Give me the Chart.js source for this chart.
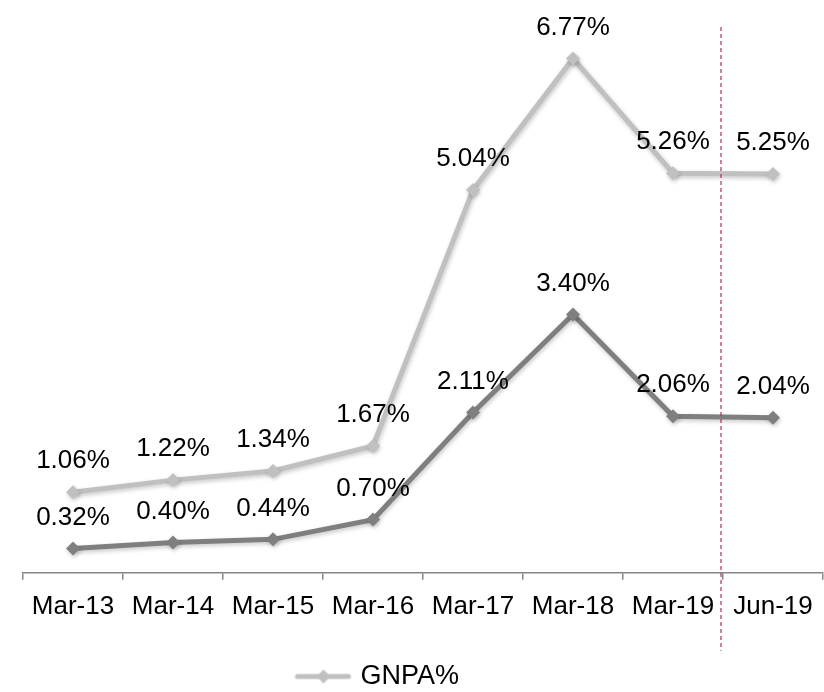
<!DOCTYPE html>
<html lang="en">
<head>
<meta charset="UTF-8">
<title>GNPA / NNPA</title>
<style>
    html, body { margin: 0; padding: 0; background: #fff; }
    #wrap { width: 824px; height: 692px; }
</style>
</head>
<body>
<div id="wrap"><canvas id="npaChart"></canvas></div>

<script src="https://cdn.jsdelivr.net/npm/chart.js@4.4.0/dist/chart.umd.min.js"></script>
<script>
const periods = ["Mar-13", "Mar-14", "Mar-15", "Mar-16", "Mar-17", "Mar-18", "Mar-19", "Jun-19"];
const gnpa = [1.06, 1.22, 1.34, 1.67, 5.04, 6.77, 5.26, 5.25];
const nnpa = [0.32, 0.40, 0.44, 0.70, 2.11, 3.40, 2.06, 2.04];

const FONT = "'Liberation Sans', Arial, sans-serif";
const lightGrey = "#c0c0c0";
const darkGrey = "#7f7f7f";

// legend icon: short line with a diamond in the middle
function legendIcon() {
    const c = document.createElement("canvas");
    c.width = 110; c.height = 18;
    const g = c.getContext("2d");
    g.strokeStyle = lightGrey;
    g.lineWidth = 5;
    g.lineCap = "round";
    g.beginPath();
    g.moveTo(6, 9); g.lineTo(57, 9);
    g.stroke();
    g.fillStyle = lightGrey;
    g.beginPath();
    g.moveTo(32, 2); g.lineTo(39, 9); g.lineTo(32, 16); g.lineTo(25, 9);
    g.closePath();
    g.fill();
    return c;
}

const shadowPlugin = {
    id: "shadow",
    beforeDatasetDraw(chart) {
        const ctx = chart.ctx;
        ctx.save();
        ctx.shadowColor = "rgba(0,0,0,0.22)";
        ctx.shadowBlur = 4;
        ctx.shadowOffsetX = 1;
        ctx.shadowOffsetY = 2;
    },
    afterDatasetDraw(chart) {
        chart.ctx.restore();
    }
};

const valueLabels = {
    id: "valueLabels",
    afterDatasetsDraw(chart) {
        const ctx = chart.ctx;
        ctx.save();
        ctx.font = "26px " + FONT;
        ctx.fillStyle = "#000";
        ctx.textAlign = "center";
        ctx.textBaseline = "middle";
        chart.data.datasets.forEach((ds, i) => {
            chart.getDatasetMeta(i).data.forEach((pt, j) => {
                ctx.fillText(ds.data[j].toFixed(2) + "%", pt.x, pt.y - 31);
            });
        });
        ctx.restore();
    }
};

const divider = {
    id: "divider",
    afterDraw(chart) {
        const ctx = chart.ctx;
        const x = chart.scales.x.getPixelForValue(6.5) - 2;
        ctx.save();
        ctx.strokeStyle = "#b0305c";
        ctx.lineWidth = 1.2;
        ctx.setLineDash([4, 3]);
        ctx.beginPath();
        ctx.moveTo(x, chart.chartArea.top + 24);
        ctx.lineTo(x, chart.chartArea.bottom + 78);
        ctx.stroke();
        ctx.restore();
    }
};

const icon = legendIcon();

new Chart(document.getElementById("npaChart"), {
    type: "line",
    data: {
        labels: periods,
        datasets: [{
            label: "GNPA%",
            data: gnpa,
            borderColor: lightGrey,
            backgroundColor: lightGrey,
            borderWidth: 5,
            pointStyle: "rectRot",
            pointRadius: 7,
            pointBorderWidth: 0,
            tension: 0
        }, {
            label: "NNPA%",
            data: nnpa,
            borderColor: darkGrey,
            backgroundColor: darkGrey,
            borderWidth: 5,
            pointStyle: "rectRot",
            pointRadius: 7,
            pointBorderWidth: 0,
            tension: 0
        }]
    },
    options: {
        responsive: true,
        maintainAspectRatio: false,
        animation: false,
        layout: { autoPadding: false, padding: { left: -18, right: 1, top: 3, bottom: -8 } },
        scales: {
            x: {
                offset: true,
                grid: {
                    offset: true,
                    drawOnChartArea: false,
                    tickLength: 7,
                    color: "#868686",
                    lineWidth: 1.5
                },
                border: { color: "#868686", width: 1.5 },
                ticks: {
                    color: "#000",
                    font: { family: FONT, size: 26 },
                    padding: 11,
                    maxRotation: 0,
                    autoSkip: false
                }
            },
            y: {
                min: 0,
                max: 7.5,
                grid: { display: false },
                border: { display: false },
                ticks: { display: false },
                afterFit: s => { s.width = 41; }
            }
        },
        plugins: {
            tooltip: { enabled: false },
            legend: {
                position: "bottom",
                labels: {
                    color: "#000",
                    font: { family: FONT, size: 27 },
                    usePointStyle: true,
                    pointStyleWidth: 1,
                    padding: 30,
                    filter: item => item.text === "GNPA%",
                    generateLabels(chart) {
                        const items = Chart.defaults.plugins.legend.labels.generateLabels(chart);
                        items.forEach(it => { it.pointStyle = icon; });
                        return items;
                    }
                }
            }
        }
    },
    plugins: [shadowPlugin, valueLabels, divider]
});
</script>
</body>
</html>
